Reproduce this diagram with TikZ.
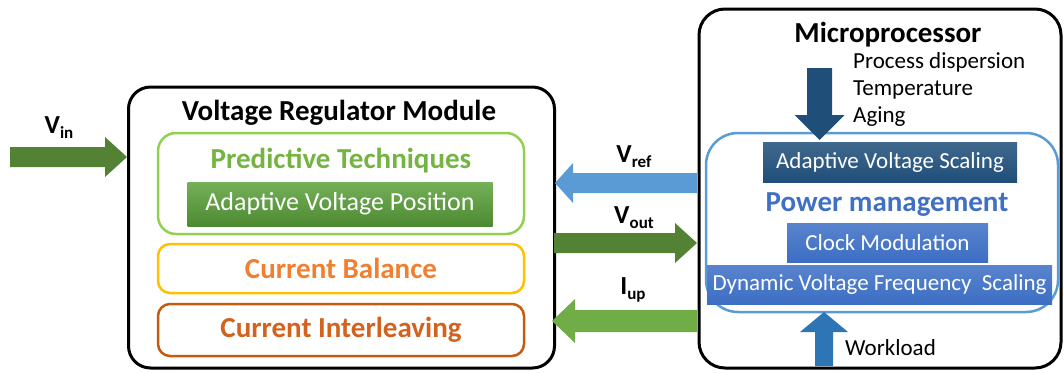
\documentclass[tikz,border=0pt]{standalone}
\usepackage{fontspec}
\setmainfont{Carlito}
\usetikzlibrary{calc}

\definecolor{dkgreen}{HTML}{548235}
\definecolor{ltgreen}{HTML}{70AD47}
\definecolor{limegreen}{HTML}{92D050}
\definecolor{predgreen}{HTML}{74B443}
\definecolor{avpgreen}{HTML}{5BA23A}
\definecolor{balyellow}{HTML}{FFC000}
\definecolor{balorange}{HTML}{F07F2F}
\definecolor{ilvorange}{HTML}{C55A11}
\definecolor{ilvtext}{HTML}{D2621C}
\definecolor{refblue}{HTML}{5B9BD5}
\definecolor{navy}{HTML}{1F4E79}
\definecolor{pmblue}{HTML}{3F70C2}
\definecolor{boxblue}{HTML}{3C6EC4}
\definecolor{wlblue}{HTML}{2E75B6}

% fat block arrow: colour, tail, tip, shaft half width, head half width, head length
\newcommand\blockarrow[6]{%
  \path coordinate (hb) at ($(#3)!#6!(#2)$);
  \fill[#1] ($(#2)!#4!90:(#3)$) -- ($(hb)!#4!90:(#3)$) -- ($(hb)!#5!90:(#3)$)
    -- (#3) -- ($(hb)!#5!-90:(#3)$) -- ($(hb)!#4!-90:(#3)$)
    -- ($(#2)!#4!-90:(#3)$) -- cycle;
}

\begin{document}
\begin{tikzpicture}[x=1pt,y=-1pt,
  frame/.style={draw=black,line width=3pt,rounded corners=22pt,inner sep=0pt},
  group/.style={line width=2.5pt,rounded corners=18pt,inner sep=0pt},
  tag/.style={inner sep=0pt,font=\fontsize{23}{25}\selectfont},
  head/.style={inner sep=0pt,font=\bfseries\fontsize{29}{31}\selectfont},
  sub/.style={inner sep=0pt,font=\bfseries\fontsize{26}{28}\selectfont},
  whitebox/.style={inner sep=0pt,text=white,font=\fontsize{23}{25}\selectfont}
]
\useasboundingbox (0,0) rectangle (1064,372);

% ---------- Voltage Regulator Module ----------
\node[frame,minimum width=426pt,minimum height=281pt] (vrm) at (341.5,227.5) {};
\node[head] (vrmt) at (339,113) {Voltage Regulator Module};

\node[group,draw=limegreen,minimum width=366pt,minimum height=101pt] (pred) at (341,183.5) {};
\node[head,text=predgreen] (predt) at (341,161) {Predictive Techniques};
\node[whitebox,top color=avpgreen!85!white,bottom color=avpgreen!85!black,
      minimum width=305pt,minimum height=44pt,font=\fontsize{26}{28}\selectfont] (avp) at (340,204) {Adaptive Voltage Position};

\node[group,draw=balyellow,minimum width=366pt,minimum height=49pt,rounded corners=12pt] (bal) at (341,268.5) {};
\node[head,text=balorange] at (bal) {Current Balance};

\node[group,draw=ilvorange,minimum width=366pt,minimum height=52pt,rounded corners=12pt] (ilv) at (341,330) {};
\node[head,text=ilvtext] at (ilv) {Current Interleaving};

% ---------- Microprocessor ----------
\node[frame,rounded corners=26pt,minimum width=362pt,minimum height=359pt] (mp) at (880,188.5) {};
\node[head] (mpt) at (888,35) {Microprocessor};
\node[tag,anchor=west] (disp) at (853,62) {Process dispersion};
\node[tag,anchor=west] (temp) at (853,90) {Temperature};
\node[tag,anchor=west] (age) at (853,117) {Aging};

\node[group,draw=refblue,rounded corners=32pt,minimum width=352pt,minimum height=179pt] (pm) at (882,222.5) {};
\node[whitebox,top color=navy!85!white,bottom color=navy,minimum width=254pt,minimum height=40pt] (avs) at (890,162) {Adaptive Voltage Scaling};
\node[head,text=pmblue] (pmt) at (887,205) {Power management};
\node[whitebox,top color=boxblue!85!white,bottom color=boxblue,minimum width=201pt,minimum height=39pt] (clk) at (887.5,242.5) {Clock Modulation};
\node[whitebox,top color=boxblue!85!white,bottom color=boxblue,minimum width=345pt,minimum height=39pt] (dvfs) at (879.5,284.5) {Dynamic Voltage Frequency \ Scaling};
\node[tag,anchor=west] (wl) at (845,348) {Workload};

% ---------- arrows ----------
\coordinate (vinA) at (10,157);
\coordinate (vinB) at (127,157);
\blockarrow{dkgreen}{vinA}{vinB}{10pt}{20pt}{22pt}
\node[sub] (vinl) at (59,128) {V\raisebox{-5pt}{\fontsize{17}{17}\selectfont in}};

\coordinate (refA) at (697,183);
\coordinate (refB) at (555,183);
\blockarrow{refblue}{refA}{refB}{10pt}{20pt}{18pt}
\node[sub] (refl) at (634,157) {V\raisebox{-5pt}{\fontsize{17}{17}\selectfont ref}};

\coordinate (outA) at (554,243);
\coordinate (outB) at (697,243);
\blockarrow{dkgreen}{outA}{outB}{10pt}{20pt}{22pt}
\node[sub] (outl) at (634,218) {V\raisebox{-5pt}{\fontsize{17}{17}\selectfont out}};

\coordinate (iupA) at (697,321);
\coordinate (iupB) at (552,321);
\blockarrow{ltgreen}{iupA}{iupB}{11pt}{22pt}{23pt}
\node[sub] (iupl) at (633,290) {I\raisebox{-5pt}{\fontsize{17}{17}\selectfont up}};

\coordinate (dnA) at (819.5,68);
\coordinate (dnB) at (819.5,140);
\blockarrow{navy}{dnA}{dnB}{12.5pt}{25pt}{25pt}

\coordinate (wlA) at (824,366);
\coordinate (wlB) at (824,312);
\blockarrow{wlblue}{wlA}{wlB}{9pt}{24pt}{20pt}
\end{tikzpicture}
\end{document}
